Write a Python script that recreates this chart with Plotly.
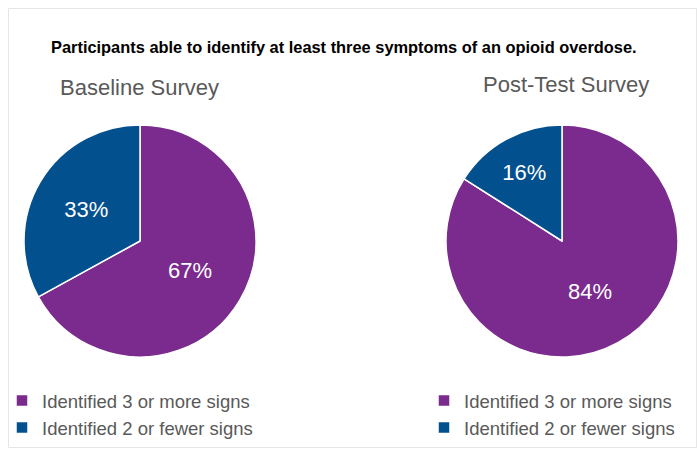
import plotly.graph_objects as go

W, H = 698, 449

labels = ["Identified 3 or more signs", "Identified 2 or fewer signs"]
baseline_values = [67, 33]
posttest_values = [84, 16]
survey_titles = ["Baseline Survey", "Post-Test Survey"]
main_title = "Participants able to identify at least three symptoms of an opioid overdose."

colors = ["#7B2A8E", "#03508F"]
grey = "#595959"

def px_x(p):
    return p / W

def px_y(p):
    return 1 - p / H

fig = go.Figure()

# Second pie uses labels with an invisible suffix so it gets its own legend entries
labels_post = [l + "\u200b" for l in labels]

for vals, labs, x0, leg in [(baseline_values, labels, 24, "legend"),
                             (posttest_values, labels_post, 446, "legend2")]:
    fig.add_trace(go.Pie(
        labels=labs, values=vals, sort=False, direction="clockwise", rotation=0,
        marker=dict(colors=colors, line=dict(color="white", width=1.5)),
        texttemplate="%{value}%", textposition="inside", insidetextorientation="horizontal",
        textfont=dict(color="white", size=22, family="Liberation Sans, Arial"),
        domain=dict(x=[px_x(x0), px_x(x0 + 232)], y=[px_y(357), px_y(125)]),
        legend=leg, hoverinfo="label+percent",
    ))

legend_common = dict(
    font=dict(size=18.5, color=grey, family="Liberation Sans, Arial"),
    bgcolor="rgba(0,0,0,0)", xanchor="left", yanchor="top",
    traceorder="normal", itemclick=False, itemdoubleclick=False,
    tracegroupgap=0,
)

fig.update_layout(
    width=W, height=H,
    margin=dict(l=0, r=0, t=0, b=0),
    paper_bgcolor="white", plot_bgcolor="white",
    showlegend=True,
    legend=dict(x=px_x(2), y=px_y(382), **legend_common),
    legend2=dict(x=px_x(424), y=px_y(382), **legend_common),
    shapes=[dict(type="rect", xref="paper", yref="paper",
                 x0=px_x(8.5), x1=px_x(696.5), y0=px_y(447.5), y1=px_y(8.5),
                 line=dict(color="#E6E6E6", width=1), fillcolor="rgba(0,0,0,0)")],
    annotations=[
        dict(text="<b>" + main_title + "</b>", x=px_x(344), y=px_y(47), xref="paper", yref="paper",
             xanchor="center", yanchor="middle", showarrow=False,
             font=dict(size=16.4, color="black", family="Liberation Sans, Arial")),
        dict(text=survey_titles[0], x=px_x(139), y=px_y(87), xref="paper", yref="paper",
             xanchor="center", yanchor="middle", showarrow=False,
             font=dict(size=22, color=grey, family="Liberation Sans, Arial")),
        dict(text=survey_titles[1], x=px_x(566), y=px_y(85), xref="paper", yref="paper",
             xanchor="center", yanchor="middle", showarrow=False,
             font=dict(size=22, color=grey, family="Liberation Sans, Arial")),
    ],
)

fig.write_html("out.html")
